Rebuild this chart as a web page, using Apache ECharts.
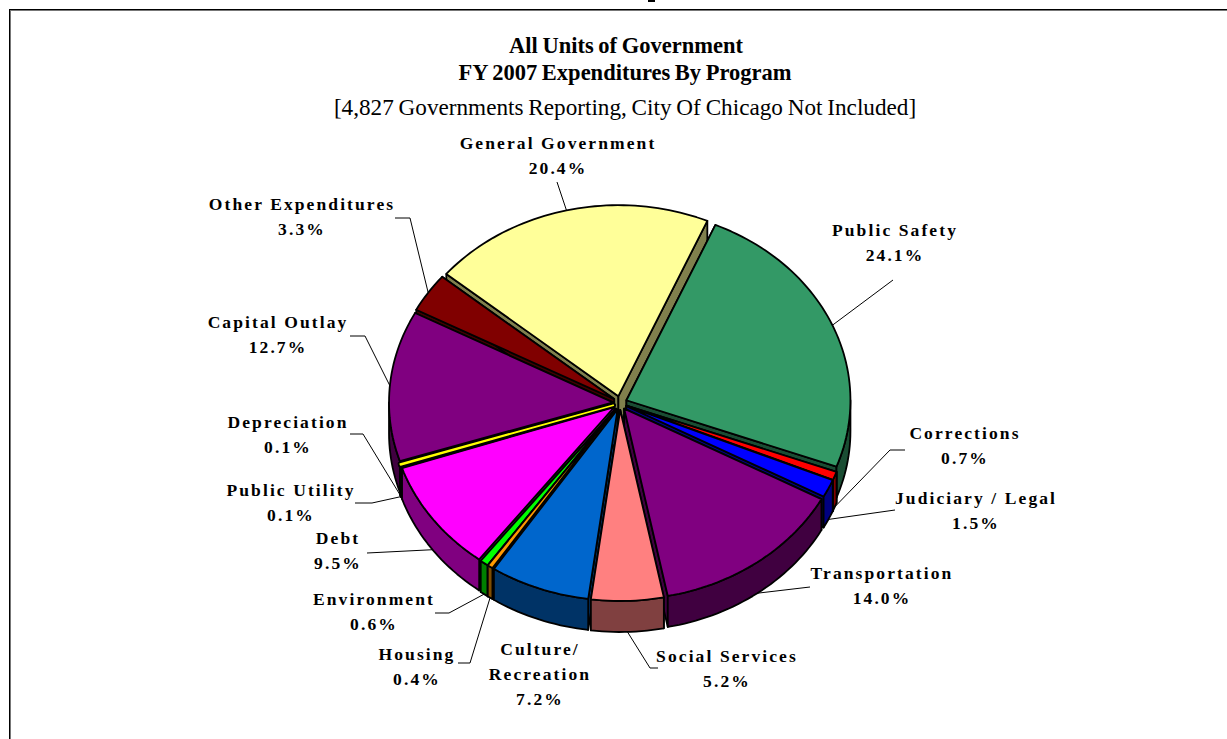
<!DOCTYPE html>
<html>
<head>
<meta charset="utf-8">
<title>FY 2007 Expenditures By Program</title>
<script src="https://cdn.jsdelivr.net/npm/echarts@6/dist/echarts.min.js"></script>
<style>
    html, body { margin: 0; padding: 0; background: #fff; }
    #chart { width: 1227px; height: 739px; }
    /* the source chart tracks its labels out and squeezes its title */
    #chart text[style*="17.5px"] { letter-spacing: 2.1px; }
    #chart text[style*="22.5px"], #chart text[style*="23.2px"] { word-spacing: -1px; }
</style>
</head>
<body>
<div id="chart"></div>
<script>
// Slices run clockwise from Public Safety
const programs = [
    "Public Safety", "Corrections", "Judiciary / Legal", "Transportation",
    "Social Services", "Culture/\nRecreation", "Housing", "Environment", "Debt",
    "Public Utility", "Depreciation", "Capital Outlay", "Other Expenditures",
    "General Government",
];
const shares = [24.1, 0.7, 1.5, 14.0, 5.2, 7.2, 0.4, 0.6, 9.5, 0.1, 0.1, 12.7, 3.3, 20.4];
const sliceColors = [
    "#339966", "#ff0000", "#0000ff", "#800080", "#ff8080", "#0066cc", "#ff9900",
    "#00ff00", "#ff00ff", "#333300", "#ffff00", "#800080", "#800000", "#ffff99",
];
const wallColors = [
    "#1a4d33", "#800000", "#000080", "#400040", "#804040", "#003366", "#804d00",
    "#008000", "#800080", "#1a1a00", "#808000", "#400040", "#400000", "#80804d",
];

// Label block centre, then the bend points of its leader line (Culture has none)
const labelLayout = [
    { at: [895, 242], leader: [[893, 280]] },
    { at: [965, 445], leader: [[890, 450], [905, 450]] },
    { at: [976, 510], leader: [[895, 510]] },
    { at: [882, 585], leader: [[810, 587]] },
    { at: [727, 668], leader: [[650, 668], [658, 668]] },
    { at: [540, 674], leader: [] },
    { at: [417, 666], leader: [[470, 663], [458, 663]] },
    { at: [374, 611], leader: [[449, 613], [435, 613]] },
    { at: [338, 550], leader: [[367, 553]] },
    { at: [291, 502], leader: [[372, 503], [355, 503]] },
    { at: [288, 434], leader: [[363, 434], [350, 434]] },
    { at: [278, 334], leader: [[365, 336], [350, 336]] },
    { at: [302, 216], leader: [[410, 218], [395, 218]] },
    { at: [558, 155], leader: [[557, 182]] },
];

const titleLines = [
    { text: "All Units of Government", left: 621, top: 29, size: 22.5, fontWeight: "bold" },
    { text: "FY 2007 Expenditures By Program", left: 620, top: 56, size: 22.5, fontWeight: "bold" },
    { text: "[4,827 Governments Reporting, City Of Chicago Not Included]", left: 620, top: 90, size: 23.2, fontWeight: "normal" },
];

// Tilted pie geometry
const cx = 620, cy = 403, rx = 224, ry = 191, depth = 31, explode = 7, startDeg = 23.4;
const total = shares.reduce((a, b) => a + b, 0);

let running = 0;
const slices = shares.map((share) => {
    const a0 = startDeg + (running / total) * 360;
    running += share;
    const a1 = startDeg + (running / total) * 360;
    const mid = ((a0 + a1) / 2) * Math.PI / 180;
    return {
        a0, a1, mid,
        ox: cx + explode * Math.sin(mid),
        oy: cy - explode * Math.cos(mid),
    };
});

// Painter's order: the slices pointing away from the viewer go first
const drawRank = [];
slices
    .map((s, i) => ({ i, y: -Math.cos(s.mid) }))
    .sort((a, b) => a.y - b.y)
    .forEach((s, rank) => { drawRank[s.i] = rank; });

function rimPoint(s, deg, drop) {
    const t = deg * Math.PI / 180;
    return [s.ox + rx * Math.sin(t), s.oy - ry * Math.cos(t) + (drop || 0)];
}

function arcPoints(s, from, to, drop) {
    const pts = [];
    const steps = Math.max(2, Math.ceil(Math.abs(to - from) / 1.5));
    for (let k = 0; k <= steps; k++) {
        pts.push(rimPoint(s, from + ((to - from) * k) / steps, drop));
    }
    return pts;
}

function renderSlice(params) {
    const i = params.dataIndex;
    const s = slices[i];
    const z = drawRank[i] * 10;
    const edge = { stroke: "#000", lineWidth: 1.8, lineJoin: "round" };
    const poly = (points, fill, z2, extra) => ({
        type: "polygon",
        z2,
        shape: { points },
        style: Object.assign({}, edge, { fill }, extra),
    });
    const apex = [s.ox, s.oy];
    const apexLow = [s.ox, s.oy + depth];
    const start = rimPoint(s, s.a0);
    const end = rimPoint(s, s.a1);
    const children = [
        poly([apex, start, [start[0], start[1] + depth], apexLow], wallColors[i], z),
        poly([apex, end, [end[0], end[1] + depth], apexLow], wallColors[i], z + 1),
    ];

    // The rim wall only shows on the part of the arc that faces down
    const from = Math.max(s.a0, 90);
    const to = Math.min(s.a1, 270);
    if (to > from) {
        const wall = arcPoints(s, from, to, 0).concat(arcPoints(s, to, from, depth));
        children.push(poly(wall, wallColors[i], z + 2));
    }

    const top = [apex].concat(arcPoints(s, s.a0, s.a1, 0));
    if (shares[i] < 0.3) {
        // Slivers thinner than their outline: black underlay, colour on top, above their neighbours
        children.push(poly(top, "#000", 800 + i * 2, { lineWidth: 5 }));
        children.push(poly(top, sliceColors[i], 801 + i * 2, { stroke: sliceColors[i], lineWidth: 1.5 }));
    } else {
        children.push(poly(top, sliceColors[i], z + 3));
    }
    return { type: "group", children };
}

function renderLabel(params) {
    const i = params.dataIndex;
    const s = slices[i];
    const spot = labelLayout[i];
    const midDeg = (s.a0 + s.a1) / 2;
    const facesDown = midDeg > 90 && midDeg < 270;
    const from = rimPoint(s, midDeg, facesDown ? depth : 0);
    const children = [
        {
            type: "text",
            z2: 1001,
            style: {
                text: programs[i] + "\n" + shares[i].toFixed(1) + "%",
                x: spot.at[0],
                y: spot.at[1],
                font: "bold 17.5px Liberation Serif",
                lineHeight: 25,
                fill: "#000",
                textAlign: "center",
                textVerticalAlign: "middle",
            },
        },
    ];
    if (spot.leader.length) {
        children.push({
            type: "polyline",
            z2: 1000,
            shape: { points: [from].concat(spot.leader) },
            style: { stroke: "#000", lineWidth: 1, fill: "none" },
        });
    }
    return { type: "group", children };
}

const chart = echarts.init(document.getElementById("chart"), null, { renderer: "svg" });

chart.setOption({
    animation: false,
    backgroundColor: "#fff",
    title: titleLines.map((line) => ({
        text: line.text,
        left: line.left,
        top: line.top,
        textAlign: "center",
        textStyle: {
            fontFamily: "Liberation Serif",
            fontSize: line.size,
            fontWeight: line.fontWeight,
            color: "#000",
        },
    })),
    graphic: [
        // Frame of the page the chart was cut from, open on the right and bottom
        { type: "line", shape: { x1: 9, y1: 9.5, x2: 1227, y2: 9.5 }, style: { stroke: "#000", lineWidth: 1 } },
        { type: "line", shape: { x1: 10, y1: 10.5, x2: 1227, y2: 10.5 }, style: { stroke: "#777", lineWidth: 1 } },
        { type: "line", shape: { x1: 9.5, y1: 9, x2: 9.5, y2: 739 }, style: { stroke: "#000", lineWidth: 1 } },
        { type: "line", shape: { x1: 10.5, y1: 11, x2: 10.5, y2: 739 }, style: { stroke: "#777", lineWidth: 1 } },
        // Descender of the heading cropped off above the frame
        { type: "rect", shape: { x: 648, y: 0, width: 7, height: 2 }, style: { fill: "#000" } },
    ],
    series: [
        {
            type: "custom",
            name: "slices",
            coordinateSystem: "none",
            data: shares,
            renderItem: renderSlice,
            silent: true,
        },
        {
            type: "custom",
            name: "labels",
            coordinateSystem: "none",
            z: 3,
            data: shares,
            renderItem: renderLabel,
            silent: true,
        },
    ],
});

window.addEventListener("resize", () => chart.resize());
</script>
</body>
</html>
